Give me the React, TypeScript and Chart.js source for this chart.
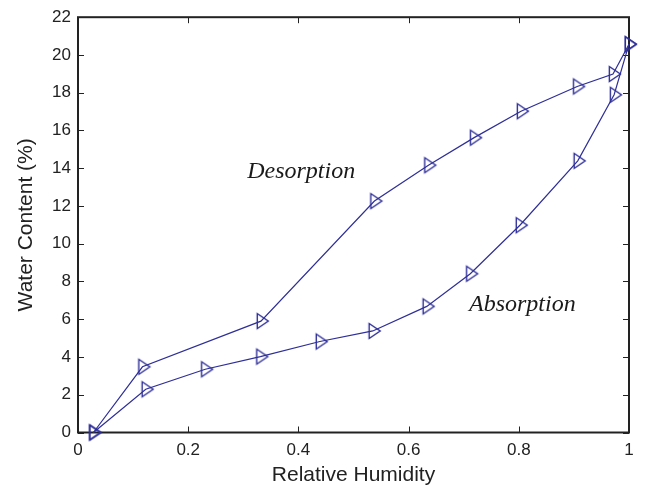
import React, { useEffect, useRef } from "react";
import { Chart, registerables } from "chart.js";

Chart.register(...registerables);

const absorptionX = [0.028, 0.123, 0.231, 0.331, 0.439, 0.535, 0.633, 0.712, 0.802, 0.907, 0.973, 1.0];
const absorptionY = [0, 2.29, 3.35, 4.02, 4.82, 5.38, 6.68, 8.41, 10.98, 14.39, 17.89, 20.57];
const desorptionX = [0.028, 0.117, 0.332, 0.538, 0.636, 0.719, 0.804, 0.906, 0.971, 1.0];
const desorptionY = [0, 3.48, 5.9, 12.26, 14.16, 15.62, 17.02, 18.33, 18.99, 20.57];

const xTicks = [0, 0.2, 0.4, 0.6, 0.8, 1];
const yTicks = [0, 2, 4, 6, 8, 10, 12, 14, 16, 18, 20, 22];

const xTitle = "Relative Humidity";
const yTitle = "Water Content (%)";
const labels = [
  { text: "Desorption", x: 0.307, y: 13.46 },
  { text: "Absorption", x: 0.7096, y: 6.43 },
];

const LINE = "#2e2e98";
const INK = "#222222";

function makeMarker(): HTMLCanvasElement {
  const w = 11;
  const h = 15;
  const size = 20;
  const c = document.createElement("canvas");
  c.width = size;
  c.height = size;
  const ctx = c.getContext("2d")!;
  const cx = size / 2;
  const cy = size / 2;
  ctx.strokeStyle = LINE;
  ctx.lineWidth = 1.4;
  ctx.beginPath();
  ctx.moveTo(cx - w / 3, cy - h / 2);
  ctx.lineTo(cx + (2 * w) / 3, cy);
  ctx.lineTo(cx - w / 3, cy + h / 2);
  ctx.closePath();
  ctx.stroke();
  return c;
}

const framePlugin = {
  id: "frame",
  beforeDatasetsDraw(chart: any) {
    const { ctx, chartArea } = chart;
    const xs = chart.scales.x;
    const ys = chart.scales.y;
    const { left, right, top, bottom } = chartArea;
    ctx.save();
    ctx.strokeStyle = INK;
    ctx.lineWidth = 1;
    const tl = 6;
    ctx.beginPath();
    xTicks.forEach((v) => {
      const px = Math.round(xs.getPixelForValue(v)) + 0.5;
      ctx.moveTo(px, bottom);
      ctx.lineTo(px, bottom - tl);
      ctx.moveTo(px, top);
      ctx.lineTo(px, top + tl);
    });
    yTicks.forEach((v) => {
      const py = Math.round(ys.getPixelForValue(v)) + 0.5;
      ctx.moveTo(left, py);
      ctx.lineTo(left + tl, py);
      ctx.moveTo(right, py);
      ctx.lineTo(right - tl, py);
    });
    ctx.stroke();
    ctx.lineWidth = 2;
    ctx.strokeRect(left, top, right - left, bottom - top);
    ctx.restore();
  },
  afterDraw(chart: any) {
    const { ctx } = chart;
    const xs = chart.scales.x;
    const ys = chart.scales.y;
    ctx.save();
    ctx.fillStyle = "#1a1a1a";
    ctx.font = "italic 24px 'Liberation Serif'";
    ctx.textAlign = "left";
    ctx.textBaseline = "alphabetic";
    labels.forEach((l) => {
      ctx.fillText(l.text, xs.getPixelForValue(l.x), ys.getPixelForValue(l.y));
    });
    ctx.restore();
  },
};

export default function App() {
  const ref = useRef<HTMLCanvasElement | null>(null);
  useEffect(() => {
    document.body.style.margin = "0";
    const marker = makeMarker();
    const canvas = ref.current!;
    const chart = new Chart(canvas, {
      type: "line",
      data: {
        datasets: [
          {
            label: "Absorption",
            data: absorptionX.map((x, i) => ({ x, y: absorptionY[i] })),
            borderColor: LINE,
            borderWidth: 1.2,
            pointStyle: marker as any,
            pointRadius: 8,
            clip: false as any,
            fill: false,
            tension: 0,
          },
          {
            label: "Desorption",
            data: desorptionX.map((x, i) => ({ x, y: desorptionY[i] })),
            borderColor: LINE,
            borderWidth: 1.2,
            pointStyle: marker as any,
            pointRadius: 8,
            clip: false as any,
            fill: false,
            tension: 0,
          },
        ],
      },
      options: {
        animation: false,
        responsive: false,
        devicePixelRatio: 1,
        layout: { padding: { top: 13, right: 22, left: 0, bottom: 0 } },
        plugins: { legend: { display: false }, tooltip: { enabled: false } },
        scales: {
          x: {
            type: "linear",
            min: 0,
            max: 1,
            grid: { display: false, drawTicks: false },
            border: { display: false },
            afterFit: (s: any) => {
              s.height = 55.5;
            },
            afterBuildTicks: (s: any) => {
              s.ticks = xTicks.map((v) => ({ value: v }));
            },
            ticks: {
              padding: 8,
              color: INK,
              font: { family: "'Liberation Sans'", size: 17 },
              callback: (v: any) => String(Number(Number(v).toFixed(1))),
            },
            title: {
              display: true,
              text: xTitle,
              color: INK,
              font: { family: "'Liberation Sans'", size: 21 },
              padding: { top: 0, bottom: 0 },
            },
          },
          y: {
            type: "linear",
            min: 0,
            max: 22,
            grid: { display: false, drawTicks: false },
            border: { display: false },
            afterFit: (s: any) => {
              s.width = 78;
            },
            afterBuildTicks: (s: any) => {
              s.ticks = yTicks.map((v) => ({ value: v }));
            },
            ticks: {
              padding: 7,
              color: INK,
              font: { family: "'Liberation Sans'", size: 17 },
              callback: (v: any) => String(v),
            },
            title: {
              display: true,
              text: yTitle,
              color: INK,
              font: { family: "'Liberation Sans'", size: 21 },
              padding: { top: 14, bottom: 0 },
            },
          },
        },
      },
      plugins: [framePlugin],
    });
    return () => chart.destroy();
  }, []);
  return (
    <div style={{ width: 651, height: 488 }}>
      <canvas ref={ref} width={651} height={488} style={{ display: "block" }} />
    </div>
  );
}
